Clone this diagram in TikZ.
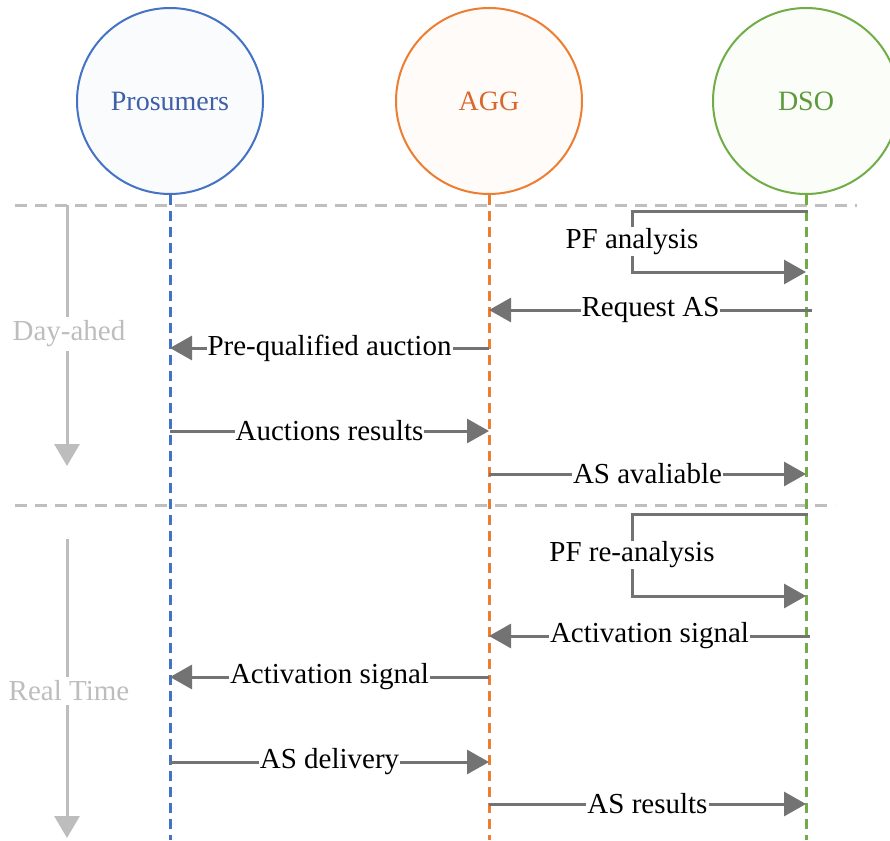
\documentclass[tikz,border=0pt]{standalone}
\usepackage{fontspec}
\setmainfont{Liberation Serif}
\usetikzlibrary{arrows.meta}
\definecolor{cblue}{HTML}{4472C4}
\definecolor{corange}{HTML}{ED7D31}
\definecolor{cgreen}{HTML}{70AD47}
\definecolor{cbluet}{HTML}{3F5FA8}
\definecolor{coranget}{HTML}{D9682A}
\definecolor{cgreent}{HTML}{5E9A3C}
\definecolor{cmsg}{HTML}{737373}
\definecolor{csep}{HTML}{BFBFBF}
\definecolor{cphase}{HTML}{BDBDBD}
\begin{document}
\begin{tikzpicture}[x=1pt,y=-1pt,
  font=\fontsize{28}{33}\selectfont,
  msg/.style={draw=cmsg, line width=3pt, -{Triangle[length=22pt,width=24pt]}},
  lbl/.style={fill=white, inner sep=1pt, text=black, font=\fontsize{29}{34}\selectfont},
  life/.style={line width=3pt, dash pattern=on 10pt off 6pt},
  actor/.style={circle, minimum size=186pt, inner sep=0pt, line width=2pt},
  sep/.style={draw=csep, line width=3pt, dash pattern=on 12pt off 8pt},
  phase/.style={draw=cphase, line width=3pt},
  phasetip/.style={phase, -{Triangle[length=22pt,width=25pt]}},
  phaselbl/.style={text=cphase, inner sep=4pt, font=\fontsize{29}{34}\selectfont}
]
\useasboundingbox (0,0) rectangle (890,840);
\clip (0,0) rectangle (890,840);

% actors
\node[actor, draw=cblue, fill=cblue!3, text=cbluet] (P) at (170,101) {Prosumers};
\node[actor, draw=corange, fill=corange!3, text=coranget] (A) at (489,101) {AGG};
\node[actor, draw=cgreen, fill=cgreen!3, text=cgreent] (D) at (806,101) {DSO};

% separators
\coordinate (s1a) at (15,205); \coordinate (s1b) at (857,205);
\coordinate (s2a) at (15,505); \coordinate (s2b) at (835,505);
\draw[sep] (s1a) -- (s1b);
\draw[sep] (s2a) -- (s2b);

% lifelines
\coordinate (Pb) at (170,840);
\coordinate (Ab) at (489,840);
\coordinate (Db) at (806,840);
\draw[life, cblue] (P.south) -- (Pb);
\draw[life, corange] (A.south) -- (Ab);
\draw[life, cgreen] (D.south) -- (Db);

% phases
\node[phaselbl] (day) at (69,334) {Day-ahed};
\coordinate (dayt) at (67,205);
\coordinate (dayb) at (67,466);
\draw[phase] (dayt) -- (day.north -| dayt);
\draw[phasetip] (day.south -| dayb) -- (dayb);

\node[phaselbl] (rt) at (69,691) {Real Time};
\coordinate (rtt) at (67,539);
\coordinate (rtb) at (67,838);
\draw[phase] (rtt) -- (rt.north -| rtt);
\draw[phasetip] (rt.south -| rtb) -- (rtb);

% PF analysis loop
\coordinate (m1a) at (808,211); \coordinate (m1b) at (632,211);
\coordinate (m1c) at (632,272); \coordinate (m1d) at (806,272);
\draw[msg] (m1a) -- (m1b) -- node[lbl]{PF analysis} (m1c) -- (m1d);

% Request AS
\coordinate (m2a) at (812,310); \coordinate (m2b) at (489,310);
\draw[msg] (m2a) -- node[lbl]{Request AS} (m2b);

% Pre-qualified auction
\coordinate (m3a) at (489,348); \coordinate (m3b) at (170,348);
\draw[msg] (m3a) -- node[lbl]{Pre-qualified auction} (m3b);

% Auctions results
\coordinate (m4a) at (170,431); \coordinate (m4b) at (489,431);
\draw[msg] (m4a) -- node[lbl]{Auctions results} (m4b);

% AS avaliable
\coordinate (m5a) at (489,474); \coordinate (m5b) at (806,474);
\draw[msg] (m5a) -- node[lbl]{AS avaliable} (m5b);

% PF re-analysis loop
\coordinate (m6a) at (808,514); \coordinate (m6b) at (632,514);
\coordinate (m6c) at (632,596); \coordinate (m6d) at (806,596);
\draw[msg] (m6a) -- (m6b) -- node[lbl]{PF re-analysis} (m6c) -- (m6d);

% Activation signal DSO -> AGG
\coordinate (m7a) at (810,636); \coordinate (m7b) at (489,636);
\draw[msg] (m7a) -- node[lbl]{Activation signal} (m7b);

% Activation signal AGG -> Prosumers
\coordinate (m8a) at (489,677); \coordinate (m8b) at (170,677);
\draw[msg] (m8a) -- node[lbl]{Activation signal} (m8b);

% AS delivery
\coordinate (m9a) at (170,762); \coordinate (m9b) at (489,762);
\draw[msg] (m9a) -- node[lbl]{AS delivery} (m9b);

% AS results
\coordinate (m10a) at (489,804); \coordinate (m10b) at (806,804);
\draw[msg] (m10a) -- node[lbl]{AS results} (m10b);
\end{tikzpicture}
\end{document}
